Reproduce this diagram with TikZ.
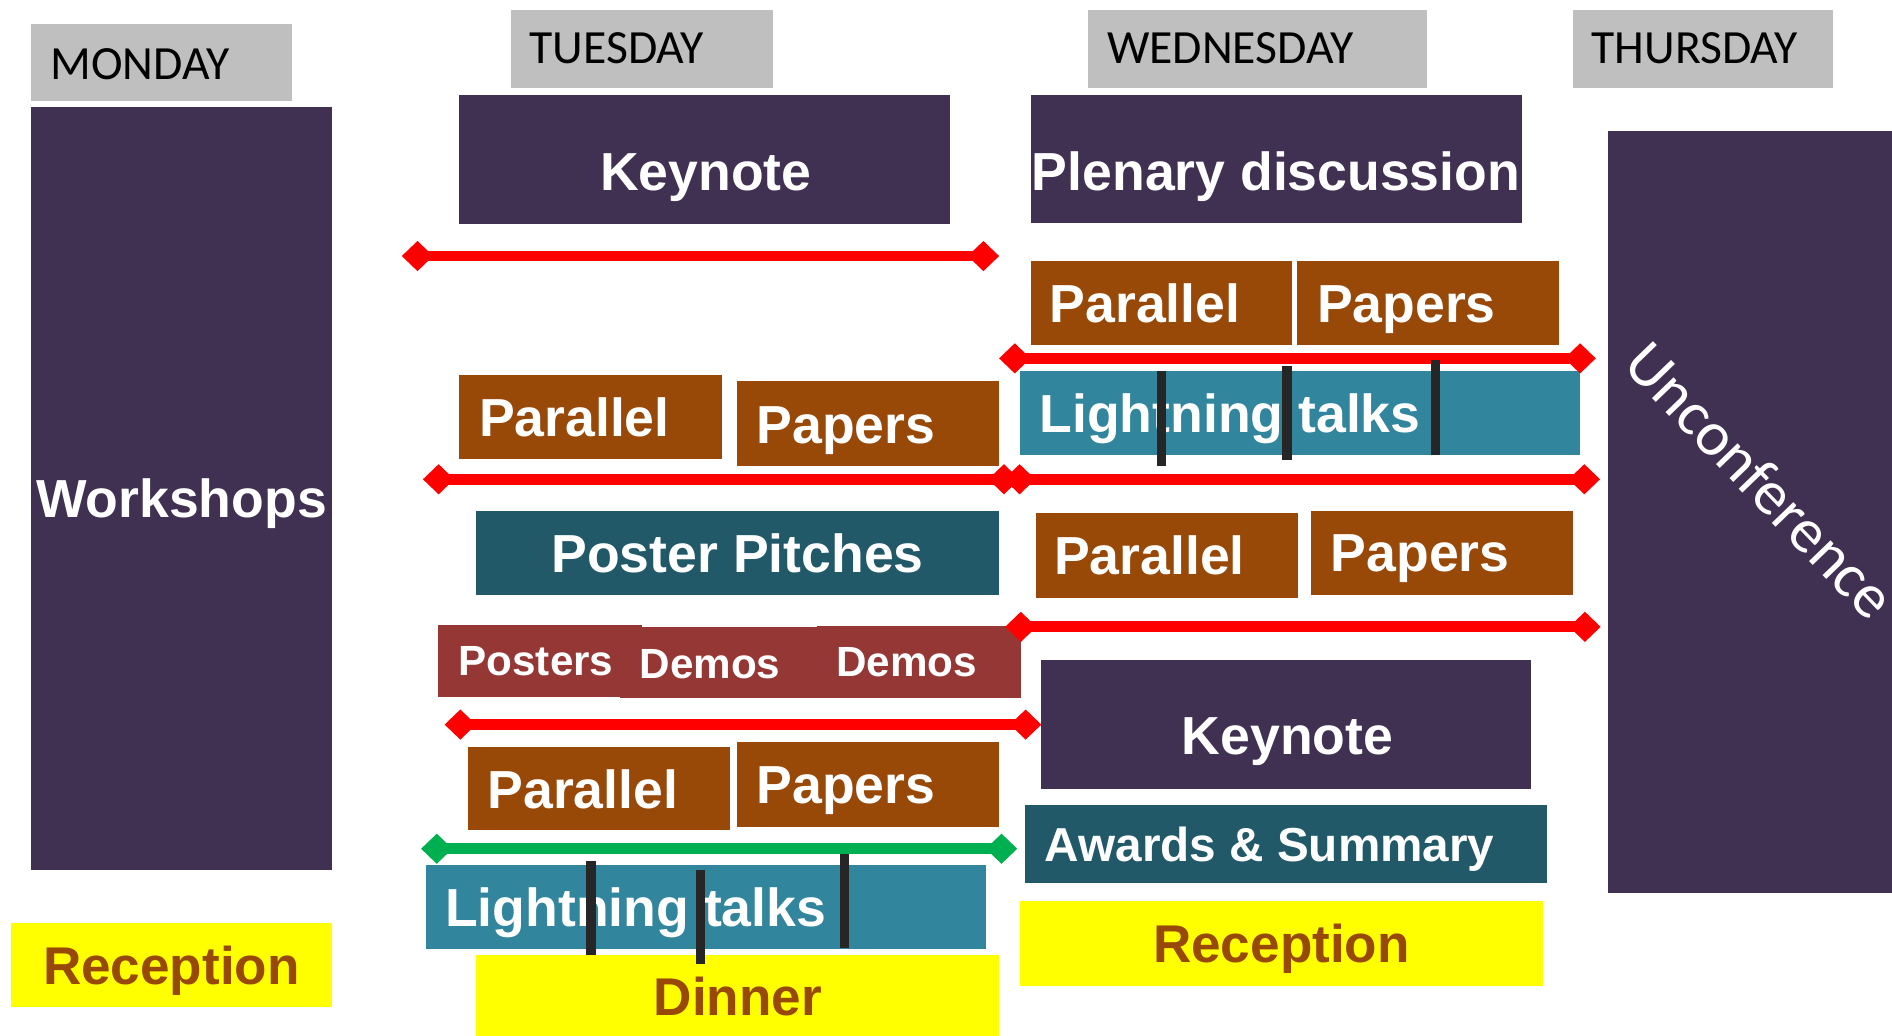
\documentclass[tikz,border=0pt]{standalone}
\usepackage{fontspec}
\setmainfont{Liberation Sans}
\newfontfamily\dayfont{Carlito}
\usetikzlibrary{arrows.meta,fit}
\definecolor{daygray}{HTML}{BFBFBF}
\definecolor{plum}{HTML}{403152}
\definecolor{rust}{HTML}{984807}
\definecolor{deepteal}{HTML}{215968}
\definecolor{lteal}{HTML}{31859C}
\definecolor{brick}{HTML}{953735}
\definecolor{redline}{HTML}{FF0000}
\definecolor{greenline}{HTML}{00B050}
\definecolor{sunny}{HTML}{FFFF00}
\definecolor{barc}{HTML}{262626}
\tikzset{
  blk/.style={inner sep=0pt, outer sep=0pt, draw=none},
  bigtxt/.style={font=\fontsize{44.4}{44.4}\selectfont\bfseries, text=white, inner sep=0pt, outer sep=0pt},
  midtxt/.style={font=\fontsize{35}{35}\selectfont\bfseries, text=white, inner sep=0pt, outer sep=0pt},
  awtxt/.style={font=\fontsize{39.5}{39.5}\selectfont\bfseries, text=white, inner sep=0pt, outer sep=0pt},
  yeltxt/.style={font=\fontsize{44}{44}\selectfont\bfseries, text=rust, inner sep=0pt, outer sep=0pt},
  daytxt/.style={font=\dayfont\fontsize{39.5}{39.5}\selectfont, text=black, inner sep=0pt, outer sep=0pt},
  untxt/.style={font=\dayfont\fontsize{52}{52}\selectfont, text=white, inner sep=0pt, outer sep=0pt},
  brk/.style={draw=redline, line width=9pt, {Diamond[length=26pt,width=25pt]}-{Diamond[length=26pt,width=25pt]}},
  gbrk/.style={draw=greenline, line width=9pt, {Diamond[length=26pt,width=25pt]}-{Diamond[length=26pt,width=25pt]}},
  splitbar/.style={draw=barc, line width=8pt},
}
\newcommand\blk[6]{%
  \path (#2,#3) coordinate (#1-nw) (#4,#5) coordinate (#1-se);
  \node[blk, fill=#6, fit=(#1-nw)(#1-se)] (#1) {};}
\begin{document}
\begin{tikzpicture}[x=1pt,y=-1pt]
\useasboundingbox (0,0) rectangle (1568,858);
\clip (0,0) rectangle (1568,858);
% day headers
\blk{dMon}{26}{20}{242}{84}{daygray}
\blk{dTue}{423.5}{8.3}{640.5}{72.7}{daygray}
\blk{dWed}{902}{8.3}{1183}{72.7}{daygray}
\blk{dThu}{1304}{8.3}{1519}{72.7}{daygray}
\node[daytxt, anchor=base west] (tMon) at (42,65.5) {MONDAY};
\node[daytxt, anchor=base west] (tTue) at (439,52.5) {TUESDAY};
\node[daytxt, anchor=base west] (tWed) at (917.5,52.5) {WEDNESDAY};
\node[daytxt, anchor=base west] (tThu) at (1319,52.5) {THURSDAY};
% Monday
\blk{work}{26}{88.7}{275.4}{720.6}{plum}
\node[bigtxt, anchor=base] (tWork) at (150.5,429) {Workshops};
\blk{recMon}{9}{765}{275.4}{834.3}{sunny}
\node[yeltxt, anchor=base] (tRecMon) at (142,816) {Reception};
% Tuesday
\blk{keyTue}{380.6}{78.7}{787.6}{185.4}{plum}
\node[bigtxt, anchor=base] (tKeyTue) at (585,158) {Keynote};
\blk{parT1}{380.6}{310.8}{598}{380.7}{rust}
\blk{papT1}{611}{315.8}{828}{386.2}{rust}
\node[bigtxt, anchor=base west] (tParT1) at (397,362) {Parallel};
\node[bigtxt, anchor=base west] (tPapT1) at (627,367.4) {Papers};
\blk{pitch}{394.3}{423.4}{828}{493}{deepteal}
\node[bigtxt, anchor=base] (tPitch) at (611.3,474.3) {Poster Pitches};
\blk{posters}{363.2}{518.2}{531.8}{577.3}{brick}
\blk{demosA}{513.8}{519.6}{682.4}{578.7}{brick}
\blk{demosB}{677.1}{518.8}{846}{578.2}{brick}
\node[midtxt, anchor=base west] (tPosters) at (380,560) {Posters};
\node[midtxt, anchor=base west] (tDemosA) at (530,562) {Demos};
\node[midtxt, anchor=base west] (tDemosB) at (693,561) {Demos};
\blk{parT3}{388}{619.1}{604.7}{688.1}{rust}
\blk{papT3}{611}{615}{828}{685.1}{rust}
\node[bigtxt, anchor=base west] (tParT3) at (404,669.7) {Parallel};
\node[bigtxt, anchor=base west] (tPapT3) at (627,665.5) {Papers};
\blk{lightT}{353.1}{717}{817.2}{786.3}{lteal}
\node[bigtxt, anchor=base west] (tLightT) at (369,767.9) {Lightning talks};
\blk{dinner}{394.3}{791.7}{828}{870}{sunny}
\node[yeltxt, anchor=base] (tDinner) at (611.5,842) {Dinner};
% Wednesday
\blk{plen}{854.5}{79}{1261}{184.8}{plum}
\node[bigtxt, anchor=base] (tPlen) at (1057.5,158) {Plenary discussion};
\blk{parW1}{854.5}{216.3}{1070.8}{285.7}{rust}
\blk{papW1}{1075}{216.3}{1291.7}{285.7}{rust}
\node[bigtxt, anchor=base west] (tParW1) at (870,267.4) {Parallel};
\node[bigtxt, anchor=base west] (tPapW1) at (1091.5,267.4) {Papers};
\blk{lightW}{845.4}{307.5}{1309}{377}{lteal}
\node[bigtxt, anchor=base west] (tLightW) at (861.5,358.3) {Lightning talks};
\blk{parW2}{858.6}{425}{1075.4}{495.3}{rust}
\blk{papW2}{1086.4}{423.4}{1303.3}{492.7}{rust}
\node[bigtxt, anchor=base west] (tParW2) at (873.7,476) {Parallel};
\node[bigtxt, anchor=base west] (tPapW2) at (1103,473.7) {Papers};
\blk{keyWed}{862.7}{547}{1269.1}{653.7}{plum}
\node[bigtxt, anchor=base] (tKeyWed) at (1067,625.6) {Keynote};
\blk{awards}{849.5}{667.2}{1282.2}{731.6}{deepteal}
\node[awtxt, anchor=base west] (tAwards) at (866,714.1) {Awards \& Summary};
\blk{recWed}{845.4}{746.7}{1278.7}{816.9}{sunny}
\node[yeltxt, anchor=base] (tRecWed) at (1062,797.5) {Reception};
% Thursday
\blk{uncon}{1333}{108.8}{1620}{740.4}{plum}
\node[untxt, rotate=-46] (tUncon) at (1459,398) {Unconference};
% session breaks
\coordinate (b1a) at (333,212.2);   \coordinate (b1b) at (828,212.2);
\coordinate (b2a) at (350.5,397.2); \coordinate (b2b) at (845,397.2);
\coordinate (b3a) at (368.5,600.5); \coordinate (b3b) at (863,600.5);
\coordinate (g1a) at (349,703.4);   \coordinate (g1b) at (843,703.4);
\coordinate (w1a) at (828,297);     \coordinate (w1b) at (1322.5,297);
\coordinate (w2a) at (832,397.2);   \coordinate (w2b) at (1326,397.2);
\coordinate (w3a) at (833,519.5);   \coordinate (w3b) at (1326.5,519.5);
\draw[brk] (b1a) -- (b1b);
\draw[brk] (b2a) -- (b2b);
\draw[brk] (b3a) -- (b3b);
\draw[gbrk] (g1a) -- (g1b);
\draw[brk] (w1a) -- (w1b);
\draw[brk] (w2a) -- (w2b);
\draw[brk] (w3a) -- (w3b);
% lightning talk dividers
\coordinate (lt1a) at (490,713.3);  \coordinate (lt1b) at (490,791.3);
\coordinate (lt2a) at (580.4,720.6); \coordinate (lt2b) at (580.4,798.9);
\coordinate (lt3a) at (700,707.9);  \coordinate (lt3b) at (700,785.7);
\coordinate (lw1a) at (962.7,307.5); \coordinate (lw1b) at (962.7,386);
\coordinate (lw2a) at (1066.4,303); \coordinate (lw2b) at (1066.4,381.5);
\coordinate (lw3a) at (1189.6,298.4); \coordinate (lw3b) at (1189.6,376.8);
\draw[splitbar] (lt1a) -- (lt1b);
\draw[splitbar] (lt2a) -- (lt2b);
\draw[splitbar] (lt3a) -- (lt3b);
\draw[splitbar] (lw1a) -- (lw1b);
\draw[splitbar] (lw2a) -- (lw2b);
\draw[splitbar] (lw3a) -- (lw3b);
\end{tikzpicture}
\end{document}
